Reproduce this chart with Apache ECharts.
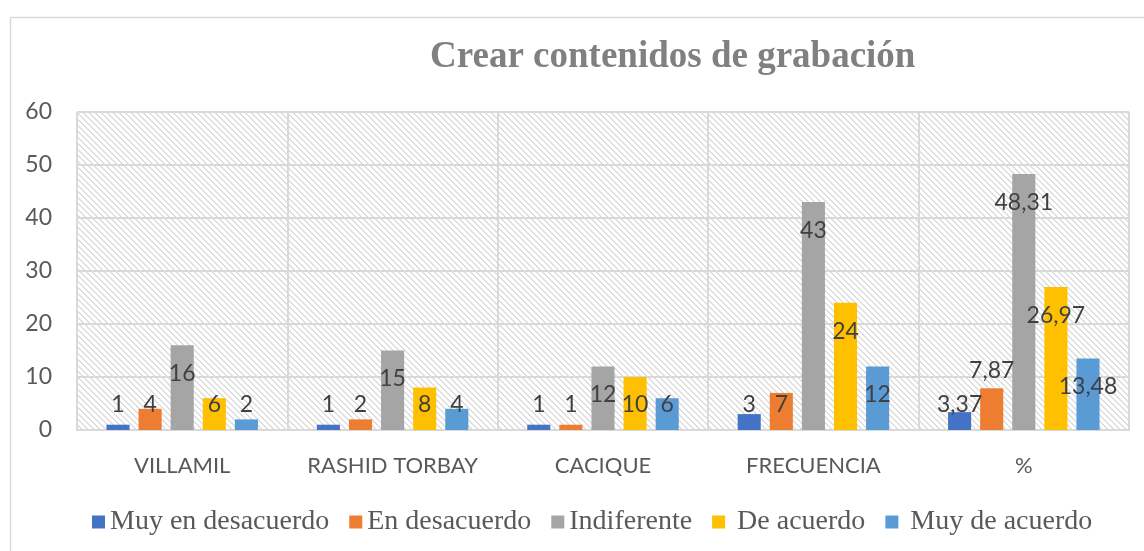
<!doctype html>
<html lang="es">
<head>
    <meta charset="UTF-8">
    <title>Crear contenidos de grabación</title>
    <script src="https://cdn.jsdelivr.net/npm/echarts@6/dist/echarts.min.js"></script>
    <style>
        html, body { margin: 0; padding: 0; background: #fff; }
        #main { width: 1144px; height: 551px; }
    </style>
</head>
<body>
<div id="main"></div>
<script>
    var categorias = ['VILLAMIL', 'RASHID TORBAY', 'CACIQUE', 'FRECUENCIA', '%'];
    var nombres = ['Muy en desacuerdo', 'En desacuerdo', 'Indiferente', ' De acuerdo', ' Muy de acuerdo'];
    var muyEnDesacuerdo = [1, 1, 1, 3, 3.37];
    var enDesacuerdo = [4, 2, 1, 7, 7.87];
    var indiferente = [16, 15, 12, 43, 48.31];
    var deAcuerdo = [6, 8, 10, 24, 26.97];
    var muyDeAcuerdo = [2, 4, 6, 12, 13.48];
    var ejeY = [0, 10, 20, 30, 40, 50, 60];

    var colores = ['#4472C4', '#ED7D31', '#A5A5A5', '#FFC000', '#5B9BD5'];
    var valores = [muyEnDesacuerdo, enDesacuerdo, indiferente, deAcuerdo, muyDeAcuerdo];

    // trama diagonal del fondo (como el relleno de Excel)
    function trama() {
        var c = document.createElement('canvas');
        c.width = 6; c.height = 6;
        var ctx = c.getContext('2d');
        ctx.fillStyle = '#ffffff';
        ctx.fillRect(0, 0, 6, 6);
        ctx.fillStyle = '#dedede';
        for (var y = 0; y < 6; y++) {
            for (var x = 0; x < 6; x++) {
                if (((x - y + 12) % 6) < 2) ctx.fillRect(x, y, 1, 1);
            }
        }
        return c;
    }

    function etiqueta(v, s, c) {
        // barras bajas: etiqueta sobre la base; altas: dentro, cerca del extremo
        if (s === 1 && c === 4) return {position: 'top', distance: 6};
        if (v < 10.5) return {position: 'insideBottom', distance: 14};
        return {position: 'insideTop', distance: 17};
    }

    var series = valores.map(function (arr, s) {
        return {
            name: nombres[s],
            type: 'bar',
            barCategoryGap: '28%',
            barGap: '39%',
            itemStyle: {color: colores[s]},
            label: {
                show: true,
                color: '#404040',
                fontFamily: 'Lato',
                fontSize: 23,
                formatter: function (p) {
                    return String(p.value).replace('.', ',');
                }
            },
            data: arr.map(function (v, c) {
                return {value: v, label: etiqueta(v, s, c)};
            })
        };
    });

    var myChart = echarts.init(document.getElementById('main'));
    var option = {
        animation: false,
        backgroundColor: '#ffffff',
        title: {
            text: 'Crear contenidos de grabación',
            left: 425,
            top: 34,
            textStyle: {
                fontFamily: 'Liberation Serif',
                fontWeight: 'bold',
                fontSize: 37,
                color: '#808080'
            }
        },
        graphic: [{
            type: 'rect',
            left: 8,
            top: 15,
            shape: {width: 1160, height: 560},
            style: {fill: 'none', stroke: '#d9d9d9', lineWidth: 1.5},
            z: -10
        }],
        legend: {
            data: nombres,
            left: 87,
            top: 503,
            itemWidth: 13,
            itemHeight: 13,
            itemGap: 20,
            icon: 'rect',
            textStyle: {
                fontFamily: 'Liberation Serif',
                fontSize: 28,
                color: '#595959'
            }
        },
        grid: {
            left: 77,
            right: 15,
            top: 112,
            bottom: 121,
            show: true,
            borderWidth: 0,
            backgroundColor: {image: trama(), repeat: 'repeat'}
        },
        xAxis: {
            type: 'category',
            data: categorias,
            axisLine: {lineStyle: {color: '#d9d9d9', width: 2}},
            axisTick: {show: false},
            splitLine: {show: true, interval: 0, lineStyle: {color: '#d9d9d9', width: 2}},
            axisLabel: {
                interval: 0,
                margin: 25,
                fontFamily: 'Lato',
                fontSize: 22,
                color: '#595959'
            }
        },
        yAxis: {
            type: 'value',
            min: ejeY[0],
            max: ejeY[ejeY.length - 1],
            interval: 10,
            axisLine: {show: false},
            axisTick: {show: false},
            splitLine: {lineStyle: {color: '#d9d9d9', width: 2}},
            axisLabel: {
                margin: 25,
                fontFamily: 'Lato',
                fontSize: 23,
                color: '#595959'
            }
        },
        series: series
    };
    myChart.setOption(option);
</script>
</body>
</html>
